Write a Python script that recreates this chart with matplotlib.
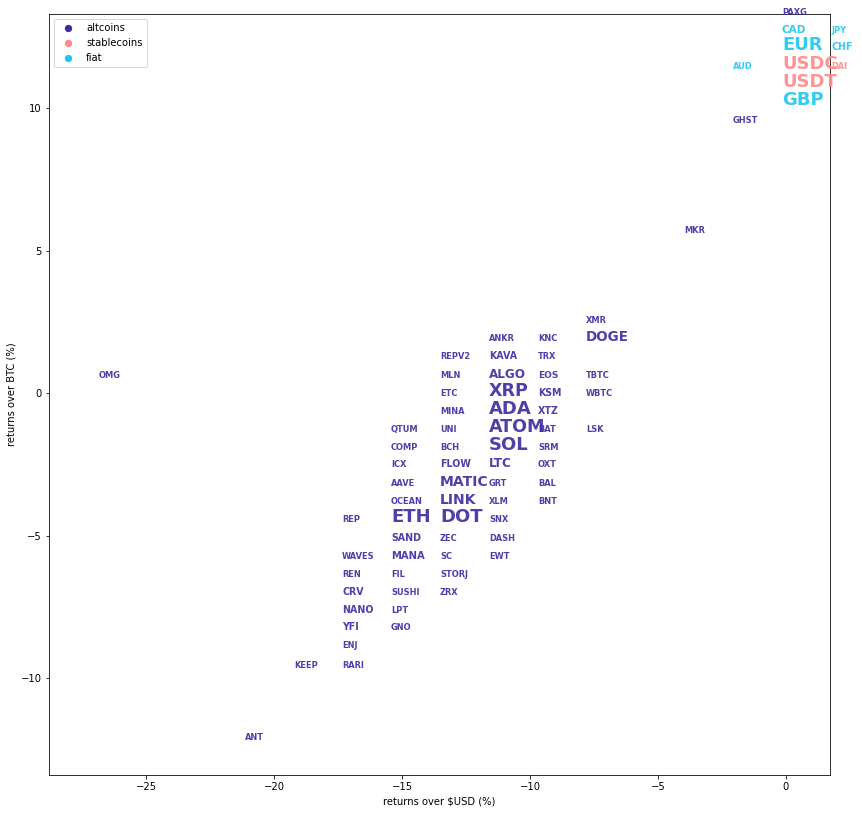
import numpy as np
import matplotlib
matplotlib.use("Agg")
import matplotlib.pyplot as plt

#------------------------------------------------data---------------------------------------------------------#
altcoins = ["OMG", "ANT", "KEEP",
            "REP", "WAVES", "REN", "CRV", "NANO", "YFI", "ENJ", "RARI",
            "QTUM", "COMP", "ICX", "AAVE", "OCEAN", "ETH", "SAND", "MANA", "FIL", "SUSHI", "LPT", "GNO",
            "REPV2", "MLN", "ETC", "MINA", "UNI", "BCH", "FLOW", "MATIC", "LINK", "DOT", "ZEC", "SC", "STORJ", "ZRX",
            "ANKR", "KAVA", "ALGO", "XRP", "ADA", "ATOM", "SOL", "LTC", "GRT", "XLM", "SNX", "DASH", "EWT",
            "KNC", "TRX", "EOS", "KSM", "XTZ", "BAT", "SRM", "OXT", "BAL", "BNT",
            "XMR", "DOGE", "TBTC", "WBTC", "LSK",
            "MKR", "GHST", "PAXG"]
alt_usd = [-26.84, -21.13, -19.22,
           -17.34, -17.34, -17.34, -17.34, -17.34, -17.34, -17.34, -17.34,
           -15.43, -15.43, -15.43, -15.43, -15.43, -15.43, -15.43, -15.43, -15.43, -15.43, -15.43, -15.43,
           -13.52, -13.52, -13.52, -13.52, -13.52, -13.52, -13.52, -13.52, -13.52, -13.52, -13.52, -13.52, -13.52, -13.52,
           -11.60, -11.60, -11.60, -11.60, -11.60, -11.60, -11.60, -11.60, -11.60, -11.60, -11.60, -11.60, -11.60,
           -9.69, -9.69, -9.69, -9.69, -9.69, -9.69, -9.69, -9.69, -9.69, -9.69,
           -7.81, -7.81, -7.81, -7.81, -7.81,
           -3.98, -2.07, -0.16]
alt_btc = [0.54, -12.16, -9.63,
           -4.54, -5.81, -6.44, -7.07, -7.70, -8.33, -8.96, -9.63,
           -1.35, -1.98, -2.61, -3.25, -3.88, -4.54, -5.18, -5.81, -6.44, -7.07, -7.70, -8.33,
           1.21, 0.54, -0.09, -0.72, -1.35, -1.98, -2.61, -3.25, -3.88, -4.54, -5.18, -5.81, -6.44, -7.07,
           1.84, 1.21, 0.54, -0.09, -0.72, -1.35, -1.98, -2.61, -3.25, -3.88, -4.54, -5.18, -5.81,
           1.84, 1.21, 0.54, -0.09, -0.72, -1.35, -1.98, -2.61, -3.25, -3.88,
           2.47, 1.84, 0.54, -0.09, -1.35,
           5.63, 9.46, 13.28]

stablecoins = ["USDC", "USDT", "DAI"]
stable_usd = [-0.16, -0.16, 1.76]
stable_btc = [11.37, 10.75, 11.37]

fiat = ["AUD", "CAD", "EUR", "GBP", "JPY", "CHF"]
fiat_usd = [-2.07, -0.16, -0.16, -0.16, 1.76, 1.76]
fiat_btc = [11.37, 12.65, 12.02, 10.12, 12.65, 12.02]

# label size (pt) - bigger = larger market cap
big = {"ETH": 18, "DOT": 18, "XRP": 17.5, "ADA": 18, "ATOM": 17.5, "SOL": 18,
       "EUR": 18, "USDC": 18, "USDT": 18, "GBP": 18,
       "MATIC": 14, "LINK": 14, "DOGE": 13.5, "LTC": 12, "ALGO": 12,
       "KAVA": 9.5, "KSM": 9.5, "XTZ": 9.5, "FLOW": 9.5, "SAND": 9.5, "MANA": 10,
       "CRV": 9.5, "NANO": 9.5, "YFI": 9.5, "EOS": 9, "CAD": 10.5, "CHF": 9.5}

groups = [("altcoins", altcoins, alt_usd, alt_btc, "#3b2ba0"),
          ("stablecoins", stablecoins, stable_usd, stable_btc, "#ff8888"),
          ("fiat", fiat, fiat_usd, fiat_btc, "#1cc6f2")]

#-------------------------------------------------plot--------------------------------------------------------#
fig = plt.figure(figsize=(862/72, 813/72), dpi=72)
ax = fig.add_axes([49/862, 38/813, 781/862, 761/813])

for name, labels, xs, ys, col in groups:
    ax.scatter([], [], color=col, s=40, label=name)
    for lbl, x, y in zip(labels, xs, ys):
        ax.text(x, y, lbl, color=col, alpha=0.9, fontweight='bold',
                fontsize=big.get(lbl, 8.2), ha='left', va='baseline')

ax.set_xlim(-28.79, 1.72)
ax.set_ylim(-13.40, 13.30)
ax.set_xlabel("returns over $USD (%)")
ax.set_ylabel("returns over BTC (%)")
ax.legend(loc='upper left')

plt.savefig('out.png', dpi=72, facecolor='w')
